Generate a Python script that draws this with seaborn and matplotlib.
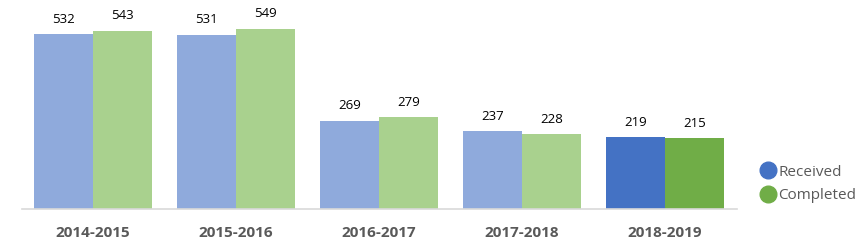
import matplotlib
matplotlib.use("Agg")
import matplotlib.pyplot as plt
from matplotlib.lines import Line2D
import seaborn as sns
import pandas as pd

years = ["2014-2015", "2015-2016", "2016-2017", "2017-2018", "2018-2019"]
received = [532, 531, 269, 237, 219]
completed = [543, 549, 279, 228, 215]
series = ["Received", "Completed"]

df = pd.DataFrame({
    "Year": years * 2,
    "Count": received + completed,
    "Series": ["Received"] * len(years) + ["Completed"] * len(years),
})

sns.set_style("white")
plt.rcParams["font.family"] = ["Open Sans", "DejaVu Sans"]

fig = plt.figure(figsize=(8.63, 2.46), dpi=100)
ax = fig.add_axes([21.5 / 863, 37 / 246, 715 / 863, 197 / 246])

sns.barplot(data=df, x="Year", y="Count", hue="Series", order=years,
            hue_order=series, width=0.83, ax=ax, legend=False,
            palette=["#8FAADC", "#A9D18E"], saturation=1)

faded = {"Received": "#8FAADC", "Completed": "#A9D18E"}
full = {"Received": "#4472C4", "Completed": "#70AD47"}
for cont, s in zip(ax.containers, series):
    for i, p in enumerate(cont.patches):
        p.set_facecolor(full[s] if i == len(years) - 1 else faded[s])
        p.set_edgecolor("none")
    ax.bar_label(cont, fmt="%d", padding=6, fontsize=9.5, color="black", clip_on=False)

ax.set_xlim(-0.5, 4.5)
ax.set_ylim(0, 600)
ax.set_xlabel("")
ax.set_ylabel("")
ax.set_yticks([])
for sp in ["top", "right", "left"]:
    ax.spines[sp].set_visible(False)
ax.spines["bottom"].set_color("#D9D9D9")
ax.spines["bottom"].set_linewidth(1.2)
ax.tick_params(axis="x", length=0, pad=12)
for lbl in ax.get_xticklabels():
    lbl.set_fontweight("bold")
    lbl.set_color("#595959")
    lbl.set_fontsize(11)

handles = [Line2D([], [], marker="o", linestyle="none", markersize=12,
                  markerfacecolor=full[s], markeredgecolor=full[s]) for s in series]
fig.legend(handles, series, loc="center left", bbox_to_anchor=(753 / 863, 1 - 184 / 246),
           frameon=False, fontsize=11, labelcolor="#595959", handletextpad=0.15,
           labelspacing=0.55, handlelength=1.0, borderpad=0)

fig.savefig("out.png", dpi=100)
